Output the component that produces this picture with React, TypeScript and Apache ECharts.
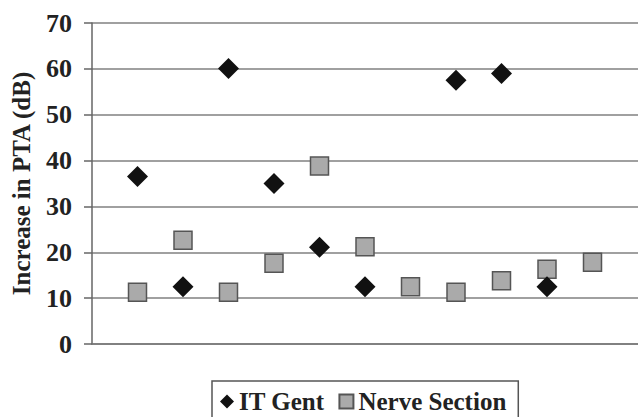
import React, { useEffect, useRef } from "react";
import * as echarts from "echarts";

const cases = [1, 2, 3, 4, 5, 6, 7, 8, 9, 10, 11];
const itGent = [36.5, 12.5, 60.1, 35.0, 21.1, 12.5, null, 57.5, 59.0, 12.5, null];
const nerveSection = [11.3, 22.6, 11.3, 17.6, 38.8, 21.2, 12.5, 11.3, 13.8, 16.3, 17.8];
const seriesNames = ["IT Gent", "Nerve Section"];
const yTitle = "Increase in PTA (dB)";

const FONT = "'Liberation Serif', 'Times New Roman', serif";

function toPairs(vals: (number | null)[]) {
  return cases
    .map((c, i) => (vals[i] == null ? null : [c, vals[i]]))
    .filter((d) => d !== null) as number[][];
}

export default function App() {
  const ref = useRef<HTMLDivElement>(null);
  useEffect(() => {
    if (!ref.current) return;
    const chart = echarts.init(ref.current, null, { renderer: "svg" });
    chart.setOption({
      animation: false,
      backgroundColor: "#ffffff",
      grid: { left: 92, top: 23, right: -4, bottom: 73, containLabel: false },
      legend: {
        left: 212,
        top: 381,
        padding: [8, 12, 8, 8],
        borderColor: "#555",
        borderWidth: 1.5,
        itemWidth: 14,
        itemHeight: 14,
        itemGap: 14,
        textStyle: { fontFamily: FONT, fontSize: 25, fontWeight: "bold", color: "#222" },
        data: [
          { name: seriesNames[0], icon: "diamond" },
          { name: seriesNames[1], icon: "rect" },
        ],
      },
      xAxis: {
        type: "value",
        min: 0,
        max: 12,
        axisLine: { show: true, lineStyle: { color: "#777", width: 1.5 } },
        axisTick: { show: false },
        axisLabel: { show: false },
        splitLine: { show: false },
      },
      yAxis: {
        type: "value",
        min: 0,
        max: 70,
        interval: 10,
        name: yTitle,
        nameLocation: "middle",
        nameRotate: 90,
        nameGap: 58,
        nameTextStyle: { fontFamily: FONT, fontSize: 25, fontWeight: "bold", color: "#222" },
        axisLine: { show: true, lineStyle: { color: "#666", width: 1.5 } },
        axisTick: { show: true, length: 8, lineStyle: { color: "#666", width: 1.5 } },
        axisLabel: { fontFamily: FONT, fontSize: 26, fontWeight: "bold", color: "#222", margin: 20 },
        splitLine: { show: true, lineStyle: { color: "#808080", width: 1.5 } },
      },
      series: [
        {
          name: seriesNames[1],
          type: "scatter",
          symbol: "rect",
          symbolSize: 18,
          z: 2,
          itemStyle: { color: "#aaaaaa", borderColor: "#555", borderWidth: 1.5, opacity: 1 },
          data: toPairs(nerveSection),
        },
        {
          name: seriesNames[0],
          type: "scatter",
          symbol: "diamond",
          symbolSize: [21, 21],
          z: 3,
          itemStyle: { color: "#111111", opacity: 1 },
          data: toPairs(itGent),
        },
      ],
    });
    return () => chart.dispose();
  }, []);
  return (
    <div
      ref={ref}
      style={{ position: "fixed", left: 0, top: 0, width: 638, height: 417, background: "#fff" }}
    />
  );
}
